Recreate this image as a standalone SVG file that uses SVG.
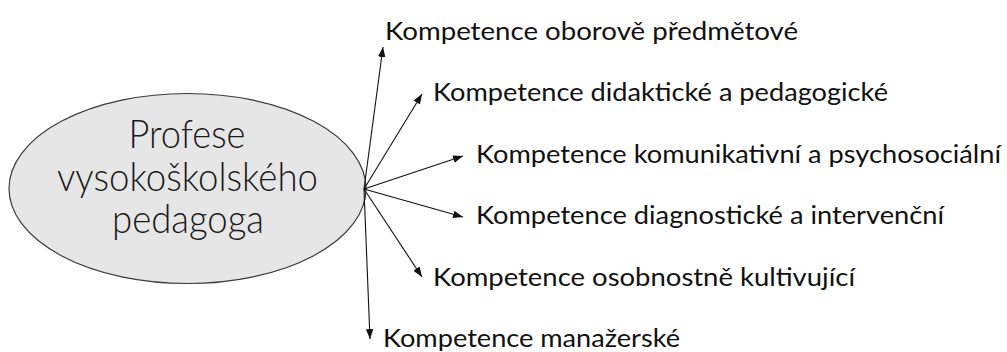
<svg xmlns="http://www.w3.org/2000/svg" width="1007" height="352" viewBox="0 0 1007 352">
  <style>
    .lbl { font-family: Lato, "Open Sans", "Liberation Sans", sans-serif; font-size: 24.5px; font-weight: 400; fill: #111; }
    .ctr { font-family: Lato, "Open Sans", "Liberation Sans", sans-serif; font-size: 39px; font-weight: 300; fill: #1a1a1a; text-anchor: middle; }
    .conn { stroke: #111; stroke-width: 1.1; fill: none; marker-end: url(#arr); }
  </style>
  <defs>
    <marker id="arr" markerUnits="userSpaceOnUse" markerWidth="10" markerHeight="10" viewBox="0 0 8 6" refX="8" refY="3" orient="auto">
      <path d="M0,0 L8,3 L0,6 Z" fill="#111"/>
    </marker>
  </defs>
  <rect width="1007" height="352" fill="#ffffff"/>
  <g id="node-center">
    <ellipse cx="187.5" cy="188.5" rx="178.5" ry="95" fill="#e6e6e6" stroke="#3a3a3a" stroke-width="1.2"/>
    <text class="ctr" x="187" y="148" textLength="117" lengthAdjust="spacingAndGlyphs">Profese</text>
    <text class="ctr" x="187.5" y="191" textLength="261" lengthAdjust="spacingAndGlyphs">vysokoškolského</text>
    <text class="ctr" x="188" y="233" textLength="152" lengthAdjust="spacingAndGlyphs">pedagoga</text>
  </g>
  <g id="connectors">
    <line class="conn" x1="364" y1="189" x2="383" y2="47"/>
    <line class="conn" x1="364" y1="189" x2="422" y2="94"/>
    <line class="conn" x1="364" y1="189" x2="463" y2="156"/>
    <line class="conn" x1="364" y1="189" x2="463" y2="217"/>
    <line class="conn" x1="364" y1="189" x2="422" y2="277"/>
    <line class="conn" x1="364" y1="189" x2="370" y2="339"/>
  </g>
  <g id="node-1"><text class="lbl" x="385" y="40" textLength="413" lengthAdjust="spacingAndGlyphs">Kompetence oborově předmětové</text></g>
  <g id="node-2"><text class="lbl" x="433" y="101" textLength="455" lengthAdjust="spacingAndGlyphs">Kompetence didaktické a pedagogické</text></g>
  <g id="node-3"><text class="lbl" x="476" y="163" textLength="525" lengthAdjust="spacingAndGlyphs">Kompetence komunikativní a psychosociální</text></g>
  <g id="node-4"><text class="lbl" x="476" y="224" textLength="468" lengthAdjust="spacingAndGlyphs">Kompetence diagnostické a intervenční</text></g>
  <g id="node-5"><text class="lbl" x="433" y="286" textLength="422" lengthAdjust="spacingAndGlyphs">Kompetence osobnostně kultivující</text></g>
  <g id="node-6"><text class="lbl" x="383" y="347" textLength="297" lengthAdjust="spacingAndGlyphs">Kompetence manažerské</text></g>
</svg>
